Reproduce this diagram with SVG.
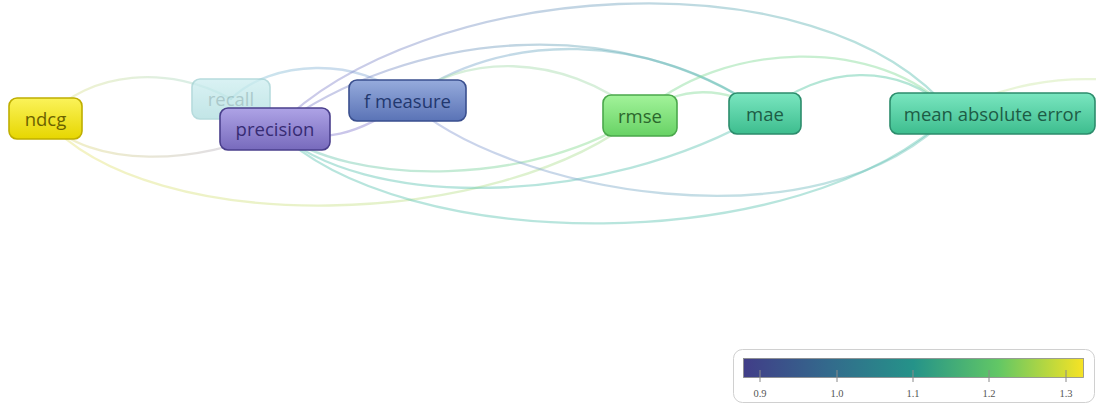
<svg xmlns="http://www.w3.org/2000/svg" width="1096" height="407" viewBox="0 0 1096 407">
<defs>
<linearGradient id="gY" x1="0" y1="0" x2="0" y2="1"><stop offset="0" stop-color="#fbf35a"/><stop offset="1" stop-color="#e6d600"/></linearGradient>
<linearGradient id="gR" x1="0" y1="0" x2="0" y2="1"><stop offset="0" stop-color="#cdeef0"/><stop offset="1" stop-color="#aedddf"/></linearGradient>
<linearGradient id="gP" x1="0" y1="0" x2="0" y2="1"><stop offset="0" stop-color="#aea3e6"/><stop offset="1" stop-color="#776abc"/></linearGradient>
<linearGradient id="gF" x1="0" y1="0" x2="0" y2="1"><stop offset="0" stop-color="#96abdc"/><stop offset="1" stop-color="#5a73b6"/></linearGradient>
<linearGradient id="gS" x1="0" y1="0" x2="0" y2="1"><stop offset="0" stop-color="#a2f39a"/><stop offset="1" stop-color="#68d265"/></linearGradient>
<linearGradient id="gM" x1="0" y1="0" x2="0" y2="1"><stop offset="0" stop-color="#7ae6c0"/><stop offset="1" stop-color="#3dbd8e"/></linearGradient>
<linearGradient id="ePX" gradientUnits="userSpaceOnUse" x1="275" y1="0" x2="952" y2="0"><stop offset="0" stop-color="#8e86d0"/><stop offset="1" stop-color="#5cc4b0"/></linearGradient>
<linearGradient id="eFX" gradientUnits="userSpaceOnUse" x1="407" y1="0" x2="952" y2="0"><stop offset="0" stop-color="#8e9ad6"/><stop offset="1" stop-color="#6ccab8"/></linearGradient>
<linearGradient id="eNP" gradientUnits="userSpaceOnUse" x1="45" y1="0" x2="275" y2="0"><stop offset="0" stop-color="#e6e27a"/><stop offset="1" stop-color="#b0aad6"/></linearGradient>
<linearGradient id="eNS" gradientUnits="userSpaceOnUse" x1="45" y1="0" x2="640" y2="0"><stop offset="0" stop-color="#eae47a"/><stop offset="1" stop-color="#a8e09a"/></linearGradient>
<linearGradient id="eNR" gradientUnits="userSpaceOnUse" x1="45" y1="0" x2="231" y2="0"><stop offset="0" stop-color="#e6e48a"/><stop offset="1" stop-color="#9ed6d6"/></linearGradient>
<linearGradient id="eRF" gradientUnits="userSpaceOnUse" x1="231" y1="0" x2="407" y2="0"><stop offset="0" stop-color="#8ccad8"/><stop offset="1" stop-color="#8aa2d6"/></linearGradient>
<linearGradient id="ePM" gradientUnits="userSpaceOnUse" x1="275" y1="0" x2="765" y2="0"><stop offset="0" stop-color="#8c86d0"/><stop offset="1" stop-color="#5cc0ae"/></linearGradient>
<linearGradient id="eFM" gradientUnits="userSpaceOnUse" x1="407" y1="0" x2="765" y2="0"><stop offset="0" stop-color="#86a4d4"/><stop offset="1" stop-color="#5cc0ae"/></linearGradient>
<linearGradient id="ePS" gradientUnits="userSpaceOnUse" x1="275" y1="0" x2="640" y2="0"><stop offset="0" stop-color="#6cc4b8"/><stop offset="1" stop-color="#8ee08a"/></linearGradient>
<linearGradient id="vir" x1="0" y1="0" x2="1" y2="0">
<stop offset="0" stop-color="#413d88"/><stop offset="0.25" stop-color="#336a8c"/><stop offset="0.5" stop-color="#259389"/><stop offset="0.75" stop-color="#62c765"/><stop offset="1" stop-color="#f7e324"/>
</linearGradient>
<style>
.e{fill:none;stroke-width:2.3;stroke-opacity:0.45;stroke-linecap:round}
.n rect{stroke-width:1.6}
.n text{font-family:"Open Sans","Liberation Sans",sans-serif;font-size:18.5px;text-anchor:middle}
.tk{stroke:#8a8a8a;stroke-width:1}
.lb{font-family:"Liberation Serif",serif;font-size:10.5px;fill:#555;text-anchor:middle}
</style>
</defs>
<rect width="1096" height="407" fill="#ffffff"/>
<g id="connectors">
<path class="e" stroke="url(#eNR)" d="M45,119 C90,70 170,65 231,99"/>
<path class="e" stroke="url(#eNP)" d="M45,119 C90,170 200,165 275,129"/>
<path class="e" stroke="url(#eNS)" stroke-opacity="0.38" d="M45,119 C150,240 500,230 640,115"/>
<path class="e" stroke="url(#eRF)" d="M231,99 C270,60 360,55 407,100"/>
<path class="e" stroke="#8a80d0" d="M275,129 C320,145 360,135 407,100"/>
<path class="e" stroke="url(#ePX)" d="M275,129 C420,-20 820,-50 952,113"/>
<path class="e" stroke="url(#ePM)" d="M275,129 C410,30 620,10 765,113"/>
<path class="e" stroke="url(#eFM)" d="M407,100 C500,30 650,30 765,113"/>
<path class="e" stroke="#a6dcae" d="M407,100 C460,55 560,50 640,115"/>
<path class="e" stroke="#86dc98" d="M640,115 C720,40 880,35 952,113"/>
<path class="e" stroke="#58c8a4" d="M765,113 C820,65 900,60 952,113"/>
<path class="e" stroke="#86dc98" d="M640,115 C680,85 725,85 765,113"/>
<path class="e" stroke="url(#ePS)" d="M275,129 C350,190 540,185 640,115"/>
<path class="e" stroke="#62c6b4" d="M275,129 C360,210 600,210 765,113"/>
<path class="e" stroke="#62c6b4" d="M275,129 C400,255 800,260 952,113"/>
<path class="e" stroke="url(#eFX)" d="M407,100 C500,190 820,255 952,113"/>
<path class="e" stroke="#cfe8a8" stroke-opacity="0.45" d="M952,113 C1000,85 1060,76 1110,80"/>
</g>
<g id="node-ndcg" class="n">
<rect x="9" y="98" width="73" height="41" rx="8" fill="url(#gY)" stroke="#bfae00"/>
<text x="45.5" y="125.5" fill="#6b6200">ndcg</text>
</g>
<g id="node-recall" class="n" opacity="0.75">
<rect x="192" y="79" width="78" height="40" rx="8" fill="url(#gR)" stroke="#9fd0d2"/>
<text x="231" y="106" fill="#8fb8ba">recall</text>
</g>
<g id="node-precision" class="n">
<rect x="220" y="108" width="110" height="42" rx="8" fill="url(#gP)" stroke="#4a3f8c"/>
<text x="275" y="135.5" fill="#372c74">precision</text>
</g>
<g id="node-f-measure" class="n">
<rect x="349" y="80" width="117" height="41" rx="8" fill="url(#gF)" stroke="#3a4f8e"/>
<text x="407.5" y="107.5" fill="#22386f">f measure</text>
</g>
<g id="node-rmse" class="n">
<rect x="603" y="95" width="74" height="41" rx="8" fill="url(#gS)" stroke="#4aa84b"/>
<text x="640" y="122.5" fill="#2b672c">rmse</text>
</g>
<g id="node-mae" class="n">
<rect x="729" y="93" width="72" height="41" rx="8" fill="url(#gM)" stroke="#2c8c6c"/>
<text x="765" y="120.5" fill="#1d5c45">mae</text>
</g>
<g id="node-mean-absolute-error" class="n">
<rect x="890" y="93" width="205" height="41" rx="8" fill="url(#gM)" stroke="#2c8c6c"/>
<text x="992.5" y="120.5" fill="#1d5c45">mean absolute error</text>
</g>
<g id="legend">
<rect x="733.5" y="349.5" width="361" height="53" rx="9" fill="#ffffff" stroke="#d0d0d0"/>
<rect x="743.5" y="358.5" width="340" height="19" fill="url(#vir)" stroke="#8a8a8a" stroke-width="0.8"/>
<line class="tk" x1="760" y1="370" x2="760" y2="382"/>
<line class="tk" x1="837" y1="370" x2="837" y2="382"/>
<line class="tk" x1="913" y1="370" x2="913" y2="382"/>
<line class="tk" x1="989" y1="370" x2="989" y2="382"/>
<line class="tk" x1="1066" y1="370" x2="1066" y2="382"/>
<text class="lb" x="760" y="397">0.9</text>
<text class="lb" x="837" y="397">1.0</text>
<text class="lb" x="913" y="397">1.1</text>
<text class="lb" x="989" y="397">1.2</text>
<text class="lb" x="1066" y="397">1.3</text>
</g>
</svg>
